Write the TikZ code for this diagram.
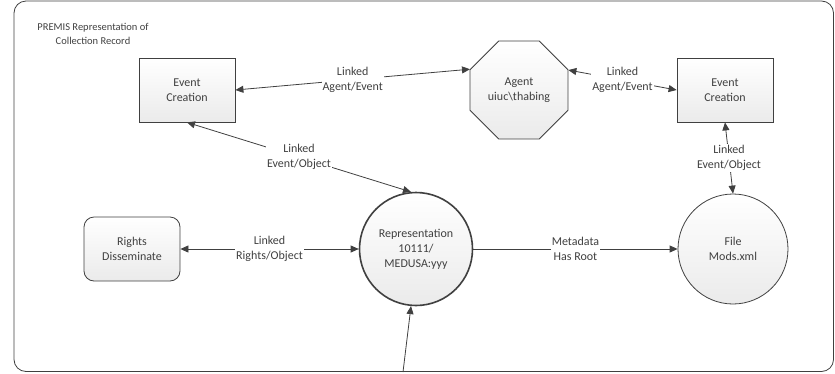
\documentclass[tikz,border=0pt]{standalone}
\usepackage{fontspec}
\setmainfont{Carlito}
\usetikzlibrary{arrows.meta,shapes.geometric}
\tikzset{>/.tip={Triangle[length=8pt,width=7pt]},
  box/.style={draw, top color=white, bottom color=black!8, minimum width=96pt, minimum height=64pt, align=center},
  rbox/.style={box, rounded corners=10pt},
  circ/.style={circle, draw, top color=white, bottom color=black!8, minimum size=110pt, inner sep=0pt, align=center},
  oct/.style={regular polygon, regular polygon sides=8, draw, top color=white, bottom color=black!8, minimum size=106pt, inner sep=0pt, align=center},
  lab/.style={fill=white, inner sep=1pt, align=center}}

\begin{document}
\begin{tikzpicture}[x=1pt, y=-1pt, color=black!75, line width=0.8pt, font=\fontsize{12}{15}\selectfont]
\useasboundingbox (0,0) rectangle (835,373);
\draw[rounded corners=12pt] (14,1) rectangle (833.5,371.5);
\node[align=center, font=\fontsize{10.5}{14}\selectfont] (title) at (93,34) {PREMIS Representation of\\Collection Record};

\node[box] (evl) at (187,90) {Event\\Creation};
\node[oct] (ag) at (519,90) {Agent\\uiuc\textbackslash thabing};
\node[box] (evr) at (725,90) {Event\\Creation};
\node[rbox] (rt) at (132,249) {Rights\\Disseminate};
\node[circ, minimum size=113pt, line width=1.6pt] (rep) at (416,249) {Representation\\10111/\\MEDUSA:yyy};
\node[circ] (fl) at (733,249) {File\\Mods.xml};
\coordinate (in) at (403,372);

\draw[<->] (evl.east) to node[lab] {Linked\\Agent/Event} (ag.157.5);
\draw[<->] (ag.22.5) to node[lab] {Linked\\Agent/Event} (evr.west);
\draw[<->] (evl.south) to node[lab] {Linked\\Event/Object} (rep.95);
\draw[<->] (evr.south) to node[lab] {Linked\\Event/Object} (fl.north);
\draw[<->] (rt) to node[lab] {Linked\\Rights/Object} (rep);
\draw[->] (rep) to node[lab] {Metadata\\Has Root} (fl);
\draw[->] (in) to (rep.265);
\end{tikzpicture}
\end{document}
